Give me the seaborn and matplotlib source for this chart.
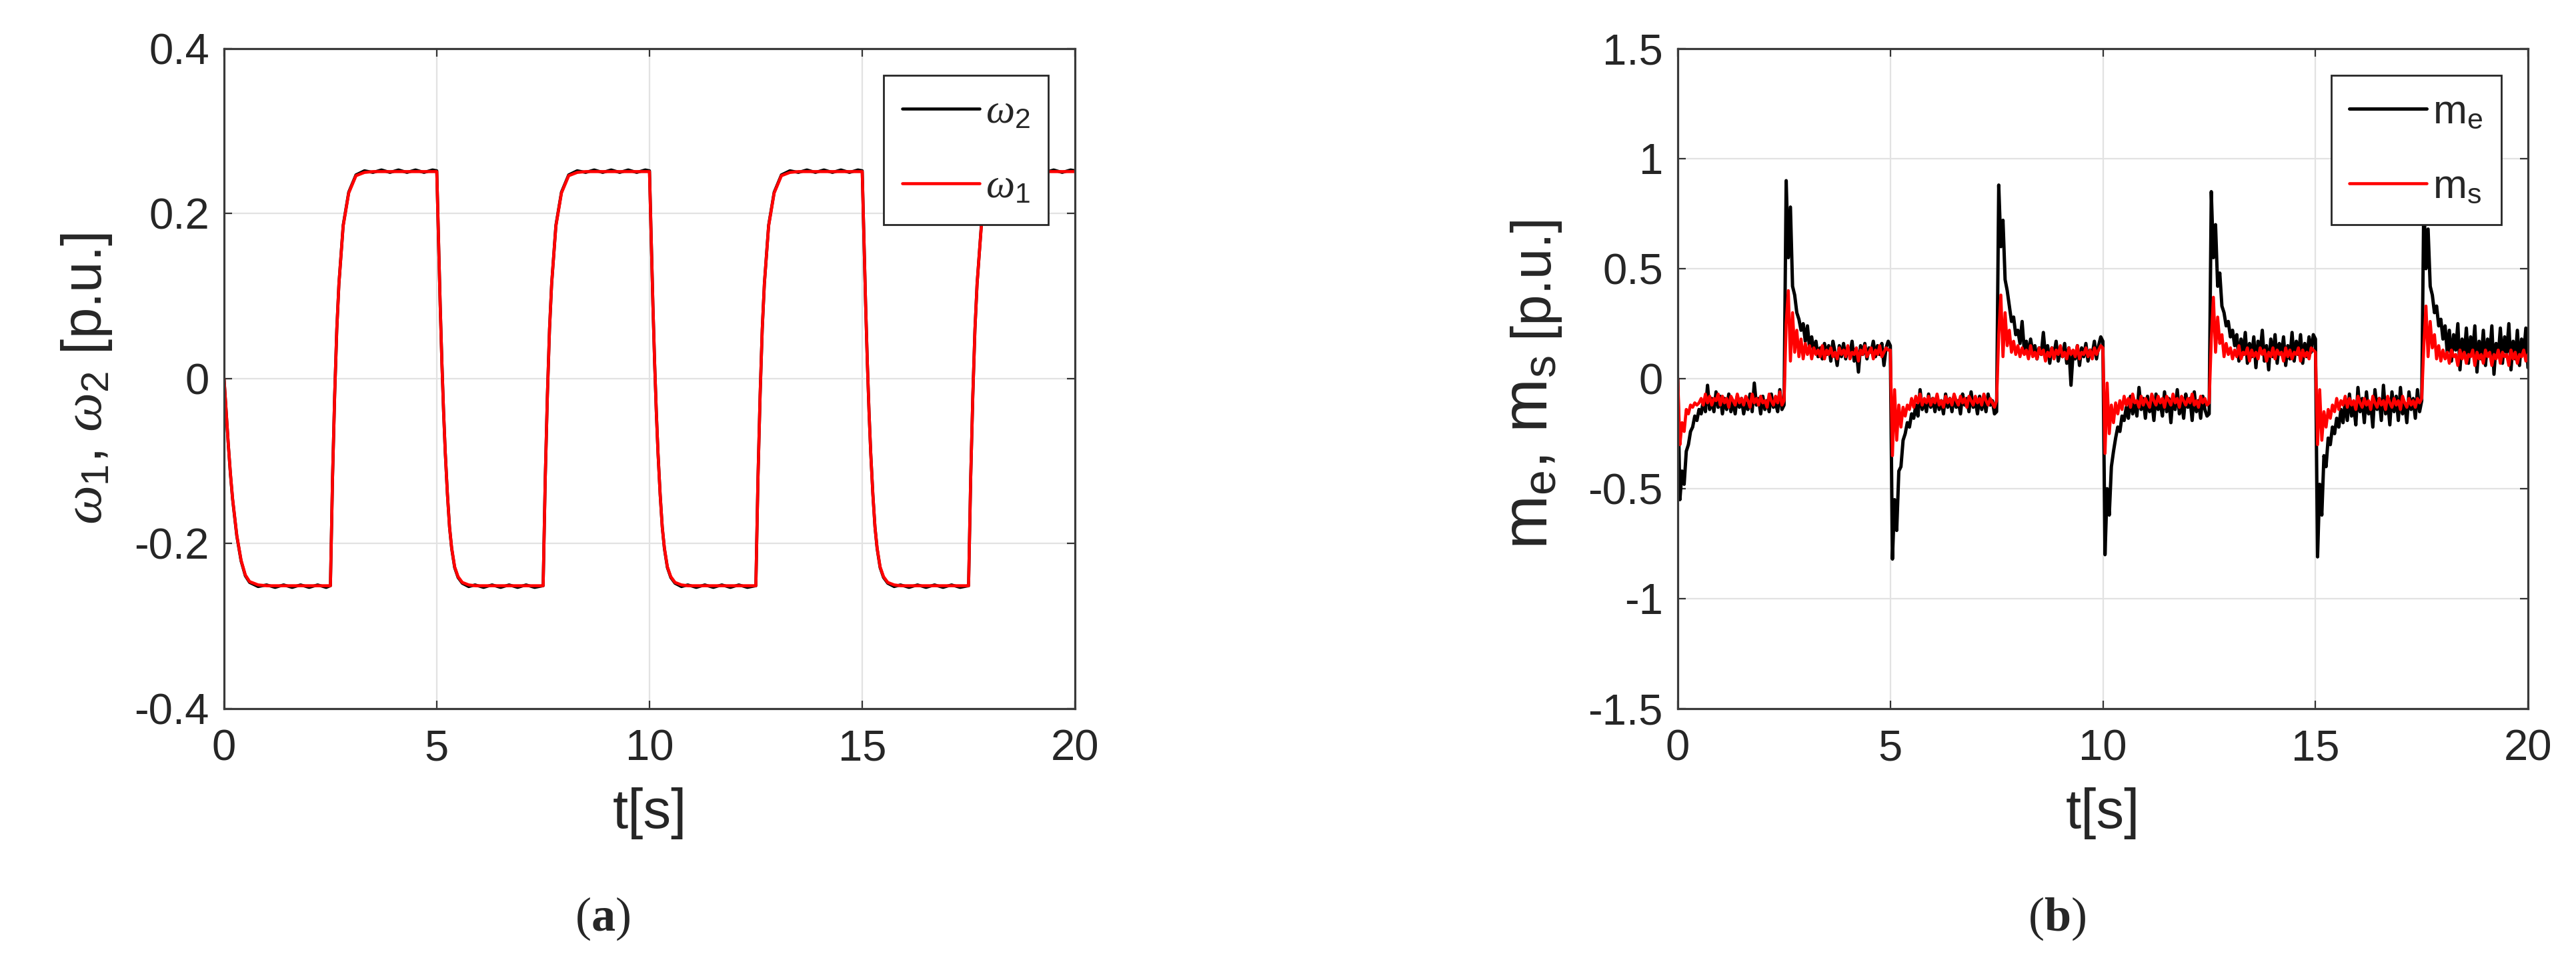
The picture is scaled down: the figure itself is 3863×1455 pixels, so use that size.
import numpy as np
import matplotlib
matplotlib.use('Agg')
import matplotlib.pyplot as plt
import seaborn as sns

# ---- panel (a): speeds ----
t_speed = [0.0, 0.05, 0.1, 0.15, 0.2, 0.3, 0.4, 0.5, 0.6, 0.8, 1.0, 1.2, 1.4, 1.6, 1.8, 2.0, 2.2, 2.4, 2.5,
           2.55, 2.6, 2.65, 2.7, 2.8, 2.93, 3.1, 3.3, 3.5, 3.7, 3.9, 4.1, 4.3, 4.5, 4.7, 4.9, 5.0,
           5.04, 5.08, 5.12, 5.16, 5.2, 5.25, 5.3, 5.35, 5.42, 5.5, 5.6, 5.75, 5.9, 6.1, 6.3, 6.5, 6.7, 6.9, 7.1, 7.3, 7.5,
           7.55, 7.6, 7.65, 7.7, 7.8, 7.93, 8.1, 8.3, 8.5, 8.7, 8.9, 9.1, 9.3, 9.5, 9.7, 9.9, 10.0,
           10.04, 10.08, 10.12, 10.16, 10.2, 10.25, 10.3, 10.35, 10.42, 10.5, 10.6, 10.75, 10.9, 11.1, 11.3, 11.5, 11.7, 11.9, 12.1, 12.3, 12.5,
           12.55, 12.6, 12.65, 12.7, 12.8, 12.93, 13.1, 13.3, 13.5, 13.7, 13.9, 14.1, 14.3, 14.5, 14.7, 14.9, 15.0,
           15.04, 15.08, 15.12, 15.16, 15.2, 15.25, 15.3, 15.35, 15.42, 15.5, 15.6, 15.75, 15.9, 16.1, 16.3, 16.5, 16.7, 16.9, 17.1, 17.3, 17.5,
           17.55, 17.6, 17.65, 17.7, 17.8, 17.93, 18.1, 18.3, 18.5, 18.7, 18.9, 19.1, 19.3, 19.5, 19.7, 19.9, 20.0]

w1 = [0.0, -0.04, -0.08, -0.115, -0.145, -0.19, -0.22, -0.238, -0.246, -0.250, -0.251, -0.251, -0.251, -0.251, -0.251, -0.251, -0.251, -0.251, -0.251,
      -0.12, -0.02, 0.06, 0.115, 0.185, 0.225, 0.246, 0.250, 0.251, 0.251, 0.251, 0.251, 0.251, 0.251, 0.251, 0.251, 0.251,
      0.17, 0.09, 0.02, -0.04, -0.09, -0.14, -0.18, -0.205, -0.228, -0.24, -0.247, -0.250, -0.251, -0.251, -0.251, -0.251, -0.251, -0.251, -0.251, -0.251, -0.251,
      -0.12, -0.02, 0.06, 0.115, 0.185, 0.225, 0.246, 0.250, 0.251, 0.251, 0.251, 0.251, 0.251, 0.251, 0.251, 0.251, 0.251,
      0.17, 0.09, 0.02, -0.04, -0.09, -0.14, -0.18, -0.205, -0.228, -0.24, -0.247, -0.250, -0.251, -0.251, -0.251, -0.251, -0.251, -0.251, -0.251, -0.251, -0.251,
      -0.12, -0.02, 0.06, 0.115, 0.185, 0.225, 0.246, 0.250, 0.251, 0.251, 0.251, 0.251, 0.251, 0.251, 0.251, 0.251, 0.251,
      0.17, 0.09, 0.02, -0.04, -0.09, -0.14, -0.18, -0.205, -0.228, -0.24, -0.247, -0.250, -0.251, -0.251, -0.251, -0.251, -0.251, -0.251, -0.251, -0.251, -0.251,
      -0.12, -0.02, 0.06, 0.115, 0.185, 0.225, 0.246, 0.250, 0.251, 0.251, 0.251, 0.251, 0.251, 0.251, 0.251, 0.251, 0.251]

w2 = [0.0, -0.04, -0.08, -0.116, -0.146, -0.191, -0.221, -0.239, -0.247, -0.252, -0.250, -0.253, -0.250, -0.253, -0.250, -0.253, -0.250, -0.253, -0.251,
      -0.12, -0.02, 0.06, 0.115, 0.186, 0.226, 0.247, 0.252, 0.250, 0.253, 0.250, 0.253, 0.250, 0.253, 0.250, 0.253, 0.252,
      0.17, 0.09, 0.02, -0.04, -0.09, -0.14, -0.18, -0.206, -0.229, -0.241, -0.248, -0.252, -0.250, -0.253, -0.250, -0.253, -0.250, -0.253, -0.250, -0.253, -0.251,
      -0.12, -0.02, 0.06, 0.115, 0.186, 0.226, 0.247, 0.252, 0.250, 0.253, 0.250, 0.253, 0.250, 0.253, 0.250, 0.253, 0.252,
      0.17, 0.09, 0.02, -0.04, -0.09, -0.14, -0.18, -0.206, -0.229, -0.241, -0.248, -0.252, -0.250, -0.253, -0.250, -0.253, -0.250, -0.253, -0.250, -0.253, -0.251,
      -0.12, -0.02, 0.06, 0.115, 0.186, 0.226, 0.247, 0.252, 0.250, 0.253, 0.250, 0.253, 0.250, 0.253, 0.250, 0.253, 0.252,
      0.17, 0.09, 0.02, -0.04, -0.09, -0.14, -0.18, -0.206, -0.229, -0.241, -0.248, -0.252, -0.250, -0.253, -0.250, -0.253, -0.250, -0.253, -0.250, -0.253, -0.251,
      -0.12, -0.02, 0.06, 0.115, 0.186, 0.226, 0.247, 0.252, 0.250, 0.253, 0.250, 0.253, 0.250, 0.253, 0.250, 0.253, 0.252]

# ---- panel (b): torques, one value every 0.05 s ----
m_e = [
    # 0 - 2.45 s
    0.00, -0.55, -0.42, -0.48, -0.33, -0.30, -0.24, -0.22, -0.17, -0.19,
    -0.14, -0.16, -0.10, -0.15, -0.03, -0.14, -0.09, -0.15, -0.06, -0.13,
    -0.08, -0.16, -0.09, -0.14, -0.07, -0.15, -0.10, -0.16, -0.08, -0.13,
    -0.09, -0.16, -0.11, -0.14, -0.07, -0.15, -0.02, -0.12, -0.09, -0.16,
    -0.08, -0.14, -0.10, -0.15, -0.07, -0.13, -0.11, -0.15, -0.05, -0.14,
    # 2.5 - 4.95 s
    -0.12, 0.90, 0.55, 0.78, 0.42, 0.38, 0.30, 0.27, 0.22, 0.25,
    0.17, 0.24, 0.14, 0.19, 0.12, 0.17, 0.10, 0.14, 0.09, 0.16,
    0.11, 0.15, 0.08, 0.17, 0.12, 0.06, 0.15, 0.10, 0.16, 0.09,
    0.14, 0.11, 0.17, 0.08, 0.13, 0.03, 0.15, 0.11, 0.16, 0.09,
    0.14, 0.12, 0.17, 0.10, 0.15, 0.11, 0.16, 0.06, 0.14, 0.17,
    # 5 - 7.45 s
    0.15, -0.82, -0.55, -0.69, -0.42, -0.40, -0.28, -0.25, -0.20, -0.22,
    -0.16, -0.18, -0.12, -0.17, -0.05, -0.14, -0.10, -0.15, -0.07, -0.13,
    -0.09, -0.15, -0.08, -0.14, -0.10, -0.16, -0.07, -0.13, -0.09, -0.15,
    -0.08, -0.13, -0.10, -0.16, -0.07, -0.12, -0.09, -0.15, -0.06, -0.13,
    -0.10, -0.16, -0.08, -0.14, -0.09, -0.15, -0.07, -0.12, -0.10, -0.16,
    # 7.5 - 9.95 s
    -0.15, 0.88, 0.60, 0.72, 0.45, 0.40, 0.33, 0.26, 0.28, 0.20,
    0.22, 0.16, 0.26, 0.13, 0.17, 0.10, 0.18, 0.12, 0.15, 0.09,
    0.14, 0.11, 0.21, 0.10, 0.15, 0.07, 0.14, 0.11, 0.17, 0.08,
    0.13, 0.10, 0.16, 0.07, 0.14, -0.03, 0.12, 0.09, 0.15, 0.06,
    0.14, 0.10, 0.16, 0.08, 0.13, 0.11, 0.17, 0.09, 0.15, 0.19,
    # 10 - 12.45 s
    0.17, -0.80, -0.50, -0.62, -0.40, -0.33, -0.27, -0.22, -0.24, -0.17,
    -0.19, -0.13, -0.18, -0.08, -0.16, -0.11, -0.17, -0.04, -0.14, -0.09,
    -0.18, -0.08, -0.15, -0.10, -0.19, -0.07, -0.14, -0.11, -0.17, -0.06,
    -0.15, -0.09, -0.20, -0.08, -0.14, -0.05, -0.16, -0.10, -0.18, -0.07,
    -0.13, -0.09, -0.19, -0.06, -0.15, -0.10, -0.18, -0.08, -0.14, -0.17,
    # 12.5 - 14.95 s
    -0.16, 0.85, 0.55, 0.70, 0.42, 0.48, 0.33, 0.30, 0.24, 0.26,
    0.19, 0.22, 0.15, 0.20, 0.08, 0.18, 0.11, 0.21, 0.07, 0.16,
    0.10, 0.19, 0.05, 0.17, 0.12, 0.22, 0.08, 0.15, 0.04, 0.18,
    0.10, 0.20, 0.07, 0.16, 0.11, 0.19, 0.06, 0.15, 0.09, 0.21,
    0.08, 0.17, 0.11, 0.20, 0.07, 0.16, 0.10, 0.19, 0.12, 0.20,
    # 15 - 17.45 s
    0.18, -0.81, -0.48, -0.62, -0.35, -0.40, -0.27, -0.30, -0.22, -0.25,
    -0.18, -0.22, -0.14, -0.20, -0.10, -0.19, -0.07, -0.17, -0.12, -0.21,
    -0.04, -0.15, -0.09, -0.20, -0.06, -0.16, -0.11, -0.22, -0.05, -0.14,
    -0.09, -0.19, -0.03, -0.16, -0.10, -0.21, -0.06, -0.15, -0.08, -0.19,
    -0.04, -0.16, -0.11, -0.20, -0.06, -0.14, -0.09, -0.18, -0.05, -0.15,
    # 17.5 - 20 s
    -0.10, 0.82, 0.50, 0.68, 0.42, 0.38, 0.30, 0.33, 0.24, 0.27,
    0.18, 0.24, 0.12, 0.22, 0.08, 0.20, 0.13, 0.25, 0.04, 0.18,
    0.10, 0.23, 0.07, 0.19, 0.12, 0.24, 0.03, 0.17, 0.09, 0.22,
    0.06, 0.18, 0.11, 0.24, 0.02, 0.16, 0.10, 0.23, 0.07, 0.19,
    0.12, 0.25, 0.04, 0.17, 0.09, 0.22, 0.06, 0.18, 0.11, 0.23,
    0.05]

m_s = [
    # 0 - 2.45 s
    0.00, -0.30, -0.20, -0.24, -0.14, -0.16, -0.12, -0.13, -0.11, -0.12,
    -0.11, -0.09, -0.12, -0.07, -0.11, -0.08, -0.12, -0.09, -0.10, -0.07,
    -0.12, -0.08, -0.11, -0.09, -0.13, -0.08, -0.10, -0.12, -0.07, -0.11,
    -0.09, -0.12, -0.08, -0.10, -0.13, -0.07, -0.11, -0.09, -0.12, -0.08,
    -0.11, -0.10, -0.13, -0.07, -0.10, -0.12, -0.08, -0.11, -0.06, -0.12,
    # 2.5 - 4.95 s
    -0.10, 0.25, 0.40, 0.08, 0.30, 0.12, 0.22, 0.10, 0.18, 0.09,
    0.16, 0.11, 0.15, 0.09, 0.14, 0.11, 0.13, 0.10, 0.15, 0.09,
    0.13, 0.11, 0.14, 0.10, 0.12, 0.09, 0.14, 0.11, 0.13, 0.10,
    0.15, 0.09, 0.12, 0.11, 0.14, 0.08, 0.13, 0.11, 0.15, 0.10,
    0.12, 0.14, 0.09, 0.13, 0.11, 0.15, 0.10, 0.12, 0.14, 0.13,
    # 5 - 7.45 s
    0.13, -0.35, -0.05, -0.28, -0.12, -0.22, -0.13, -0.17, -0.12, -0.14,
    -0.09, -0.13, -0.08, -0.11, -0.07, -0.12, -0.09, -0.11, -0.08, -0.12,
    -0.09, -0.11, -0.07, -0.12, -0.10, -0.13, -0.08, -0.11, -0.09, -0.12,
    -0.07, -0.10, -0.12, -0.08, -0.11, -0.09, -0.13, -0.08, -0.10, -0.12,
    -0.08, -0.11, -0.09, -0.12, -0.07, -0.10, -0.12, -0.09, -0.11, -0.13,
    # 7.5 - 9.95 s
    -0.10, 0.20, 0.38, 0.10, 0.30, 0.15, 0.22, 0.12, 0.17, 0.11,
    0.15, 0.10, 0.14, 0.11, 0.13, 0.09, 0.15, 0.10, 0.12, 0.09,
    0.14, 0.11, 0.13, 0.08, 0.12, 0.10, 0.14, 0.09, 0.13, 0.11,
    0.15, 0.10, 0.12, 0.09, 0.14, 0.11, 0.13, 0.10, 0.15, 0.09,
    0.12, 0.11, 0.14, 0.10, 0.13, 0.09, 0.14, 0.11, 0.13, 0.15,
    # 10 - 12.45 s
    0.14, -0.34, -0.02, -0.25, -0.12, -0.20, -0.11, -0.16, -0.10, -0.14,
    -0.08, -0.12, -0.09, -0.13, -0.07, -0.11, -0.10, -0.13, -0.08, -0.12,
    -0.09, -0.11, -0.13, -0.07, -0.10, -0.12, -0.08, -0.11, -0.09, -0.13,
    -0.08, -0.10, -0.12, -0.07, -0.11, -0.09, -0.13, -0.08, -0.10, -0.12,
    -0.09, -0.11, -0.07, -0.12, -0.10, -0.13, -0.08, -0.11, -0.09, -0.12,
    # 12.5 - 14.95 s
    -0.11, 0.18, 0.37, 0.12, 0.28, 0.16, 0.20, 0.10, 0.16, 0.11,
    0.14, 0.09, 0.13, 0.10, 0.15, 0.09, 0.12, 0.11, 0.14, 0.08,
    0.13, 0.10, 0.12, 0.09, 0.14, 0.11, 0.13, 0.08, 0.12, 0.10,
    0.14, 0.09, 0.13, 0.11, 0.12, 0.08, 0.14, 0.10, 0.13, 0.09,
    0.12, 0.11, 0.14, 0.08, 0.13, 0.10, 0.12, 0.09, 0.14, 0.13,
    # 15 - 17.45 s
    0.12, -0.30, -0.05, -0.28, -0.15, -0.22, -0.14, -0.18, -0.12, -0.15,
    -0.09, -0.14, -0.10, -0.12, -0.08, -0.13, -0.09, -0.12, -0.10, -0.14,
    -0.08, -0.11, -0.13, -0.09, -0.12, -0.10, -0.14, -0.08, -0.11, -0.13,
    -0.09, -0.12, -0.10, -0.14, -0.08, -0.11, -0.13, -0.09, -0.12, -0.10,
    -0.14, -0.08, -0.11, -0.13, -0.09, -0.12, -0.10, -0.13, -0.09, -0.11,
    # 17.5 - 20 s
    -0.09, 0.15, 0.33, 0.10, 0.26, 0.14, 0.20, 0.09, 0.15, 0.08,
    0.13, 0.09, 0.12, 0.07, 0.13, 0.10, 0.11, 0.06, 0.13, 0.09,
    0.12, 0.07, 0.11, 0.10, 0.13, 0.06, 0.12, 0.09, 0.11, 0.07,
    0.13, 0.10, 0.12, 0.06, 0.11, 0.09, 0.13, 0.07, 0.12, 0.10,
    0.11, 0.06, 0.13, 0.09, 0.12, 0.07, 0.11, 0.10, 0.13, 0.08,
    0.11]

t_torque = np.linspace(0, 20, len(m_e))

x_ticks = [0, 5, 10, 15, 20]
speed_ticks = [-0.4, -0.2, 0, 0.2, 0.4]
speed_ticklabels = ['-0.4', '-0.2', '0', '0.2', '0.4']
torque_ticks = [-1.5, -1, -0.5, 0, 0.5, 1, 1.5]
torque_ticklabels = ['-1.5', '-1', '-0.5', '0', '0.5', '1', '1.5']

sns.set_theme(style='whitegrid')
plt.rcParams['font.family'] = ['Liberation Sans', 'DejaVu Sans']
plt.rcParams['mathtext.fontset'] = 'custom'
plt.rcParams['mathtext.rm'] = 'Liberation Sans'
plt.rcParams['mathtext.it'] = 'Liberation Serif:italic'
plt.rcParams['mathtext.bf'] = 'Liberation Serif:bold'

fig = plt.figure(figsize=(38.63, 14.55), dpi=100)
ax1 = fig.add_axes([0.08698, 0.26942, 0.33031, 0.68041])
ax2 = fig.add_axes([0.65131, 0.26942, 0.33005, 0.68041])

lw = 3.3
sns.lineplot(x=t_speed, y=w2, color='black', linewidth=lw, estimator=None, label=r'$\omega_2$', ax=ax1)
sns.lineplot(x=t_speed, y=w1, color='#ff0000', linewidth=lw, estimator=None, label=r'$\omega_1$', ax=ax1)

sns.lineplot(x=t_torque, y=m_e, color='black', linewidth=3.6, estimator=None, label=r'm$_\mathregular{e}$', ax=ax2)
sns.lineplot(x=t_torque, y=m_s, color='#ff0000', linewidth=3.3, estimator=None, label=r'm$_\mathregular{s}$', ax=ax2)

ax1.set_ylim(-0.4, 0.4)
ax1.set_yticks(speed_ticks)
ax1.set_yticklabels(speed_ticklabels)
ax1.set_ylabel(r'$\omega_1$, $\omega_2$ [p.u.]', fontsize=60, labelpad=22)

ax2.set_ylim(-1.5, 1.5)
ax2.set_yticks(torque_ticks)
ax2.set_yticklabels(torque_ticklabels)
ax2.set_ylabel('')

for ax in (ax1, ax2):
    ax.set_xlim(0, 20)
    ax.set_xticks(x_ticks)
    ax.set_xticklabels([str(v) for v in x_ticks])
    ax.set_xlabel('t[s]', fontsize=60, labelpad=20)
    ax.grid(True, color='#e2e2e2', linewidth=1.6)
    ax.tick_params(which='both', direction='in', top=True, right=True, bottom=True, left=True,
                   length=8.5, width=1.6, color='#333333', labelsize=47, labelcolor='#262626')
    ax.tick_params(axis='x', pad=22)
    ax.tick_params(axis='y', pad=16)
    for sp in ax.spines.values():
        sp.set_color('#3a3a3a')
        sp.set_linewidth(2.3)
    leg = ax.legend(loc='upper right', fontsize=44, frameon=True, fancybox=False, framealpha=1,
                    borderaxespad=0.65, handlelength=1.9, handletextpad=0.15, labelspacing=0.9,
                    borderpad=0.45)
    leg.get_frame().set_edgecolor('#262626')
    leg.get_frame().set_linewidth(2.0)

# y label of panel (b): the m's are drawn a bit larger than the unit, as in the original
fig.text(0.6005, 0.4340, r'm$_\mathregular{e}$, m$_\mathregular{s}$', fontsize=70, rotation=90,
         rotation_mode='anchor', ha='left', va='baseline', color='#262626')
fig.text(0.6005, 0.6530, '[p.u.]', fontsize=60, rotation=90,
         rotation_mode='anchor', ha='left', va='baseline', color='#262626')

fig.text(0.2338, 0.0529, r'($\mathbf{a}$)', family='Liberation Serif', fontsize=52, ha='center', va='center')
fig.text(0.7986, 0.0529, r'($\mathbf{b}$)', family='Liberation Serif', fontsize=52, ha='center', va='center')

fig.savefig('out.png', dpi=100)
